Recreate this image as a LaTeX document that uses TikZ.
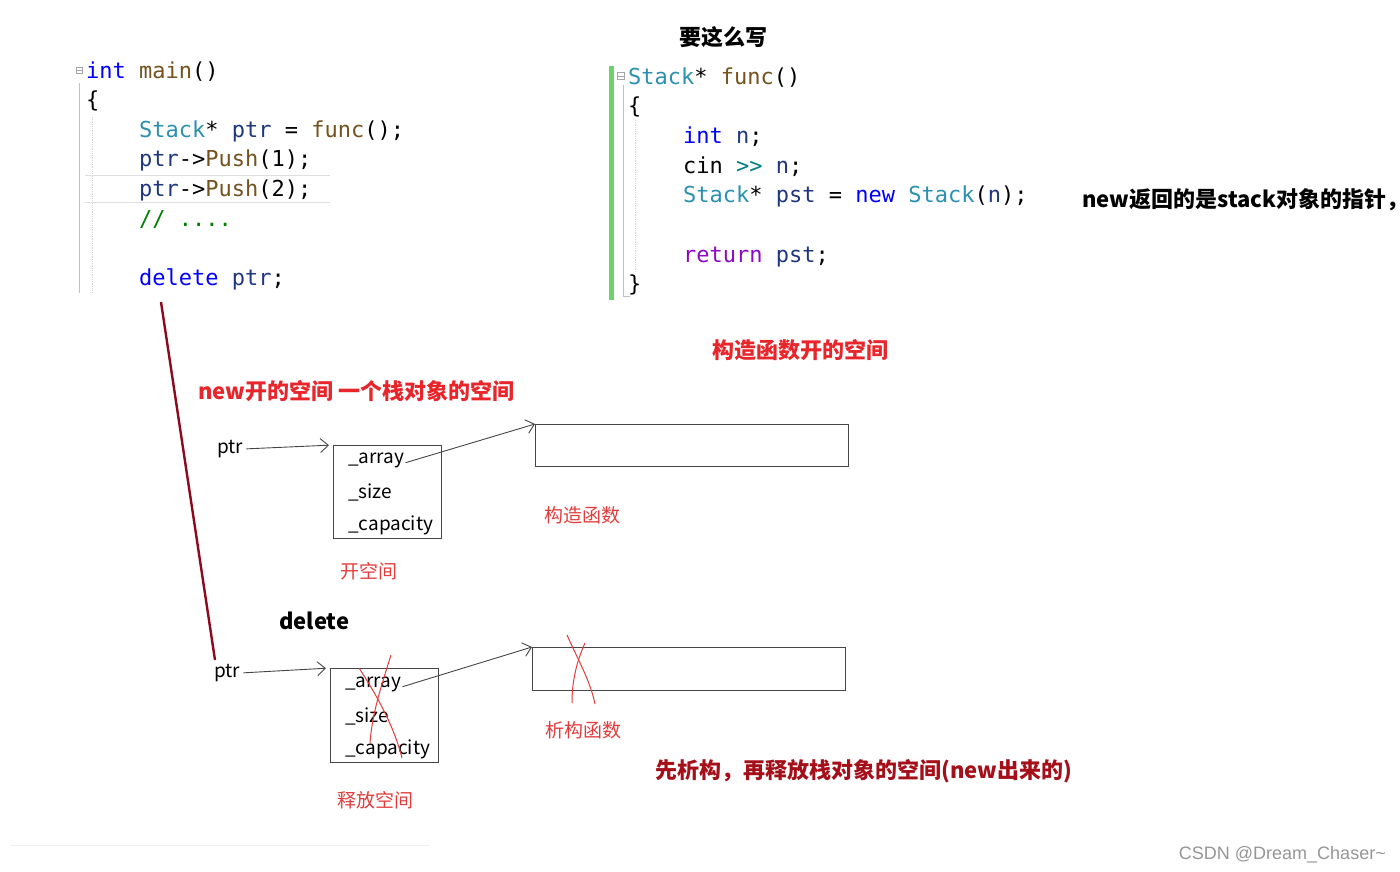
\documentclass[tikz,border=0pt]{standalone}
\usepackage{fontspec}
\setmainfont{Noto Sans CJK SC}
\setmonofont{DejaVu Sans Mono}
\newfontfamily\wmfont{Liberation Sans}
\usetikzlibrary{arrows.meta}
\definecolor{ckwC}{RGB}{0,0,255}
\definecolor{ctyC}{RGB}{43,145,175}
\definecolor{cfnC}{RGB}{116,83,31}
\definecolor{cidC}{RGB}{31,55,127}
\definecolor{ccmC}{RGB}{0,128,0}
\definecolor{crtC}{RGB}{143,8,196}
\definecolor{copC}{RGB}{0,128,128}
\definecolor{redA}{RGB}{232,37,42}
\definecolor{redB}{RGB}{226,60,60}
\definecolor{redD}{RGB}{165,15,25}
\definecolor{redLine}{RGB}{140,10,30}
\definecolor{greenBar}{RGB}{108,210,108}
\definecolor{lineC}{RGB}{70,70,70}
\newcommand\ckw[1]{\textcolor{ckwC}{#1}}
\newcommand\cty[1]{\textcolor{ctyC}{#1}}
\newcommand\cfn[1]{\textcolor{cfnC}{#1}}
\newcommand\cid[1]{\textcolor{cidC}{#1}}
\newcommand\ccm[1]{\textcolor{ccmC}{#1}}
\newcommand\crt[1]{\textcolor{crtC}{#1}}
\newcommand\cop[1]{\textcolor{copC}{#1}}
\tikzset{
  code/.style={anchor=base west, inner sep=0pt, font=\ttfamily\fontsize{22}{26}\selectfont},
  head/.style={anchor=west, inner sep=0pt, font=\bfseries\fontsize{22}{26}\selectfont},
  lbl/.style={anchor=west, inner sep=0pt, font=\fontsize{19}{22}\selectfont},
  fld/.style={anchor=west, inner sep=0pt, font=\fontsize{19}{22}\selectfont},
  membox/.style={draw=lineC, line width=1.1pt, anchor=north west, inner sep=0pt},
  ptrarrow/.style={draw=lineC, line width=0.9pt, -{Straight Barb[length=8pt,width=14pt]}},
  cross/.style={draw=redB, line width=1pt},
}
\begin{document}
\begin{tikzpicture}[x=1pt,y=-1pt]
\useasboundingbox[fill=white] (0,0) rectangle (1400,872);

% ---- left code ----
\draw[gray!50, line width=1pt] (79,83) -- (79,293);
\draw[gray!35, line width=0.8pt, densely dotted] (92,117) -- (92,292);
\draw[gray!25, line width=1pt] (85,175) -- (330,175);
\draw[gray!25, line width=1pt] (85,202) -- (330,202);
\node[draw=gray!70, line width=0.5pt, minimum size=6pt, inner sep=0pt] (foldA) at (79,70) {};
\draw[gray!70, line width=0.5pt] (foldA.west) -- (foldA.east);
\node[code] (l1) at (86,78.5) {\ckw{int} \cfn{main}()};
\node[code] (l2) at (86,108) {\{};
\node[code] (l3) at (139,137.5) {\cty{Stack}* \cid{ptr} = \cfn{func}();};
\node[code] (l4) at (139,167) {\cid{ptr}->\cfn{Push}(1);};
\node[code] (l5) at (139,196.5) {\cid{ptr}->\cfn{Push}(2);};
\node[code] (l6) at (139,226) {\ccm{// ....}};
\node[code] (l7) at (139,285.5) {\ckw{delete} \cid{ptr};};

% ---- right code ----
\node[head, anchor=center] (title) at (723,37) {要这么写};
\fill[greenBar] (609,66) rectangle (614,300);
\draw[gray!50, line width=1pt] (623,85) -- (623,296) -- (630,296);
\draw[gray!35, line width=0.8pt, densely dotted] (635,120) -- (635,272);
\node[draw=gray!70, line width=0.5pt, minimum size=7pt, inner sep=0pt] (foldB) at (621,76) {};
\draw[gray!70, line width=0.5pt] (foldB.west) -- (foldB.east);
\node[code] (r1) at (628,84.5) {\cty{Stack}* \cfn{func}()};
\node[code] (r2) at (628,114) {\{};
\node[code] (r3) at (683,143.5) {\ckw{int} \cid{n};};
\node[code] (r4) at (683,173) {cin \cop{>>} \cid{n};};
\node[code] (r5) at (683,202.5) {\cty{Stack}* \cid{pst} = \ckw{new} \cty{Stack}(\cid{n});};
\node[code] (r6) at (683,262) {\crt{return} \cid{pst};};
\node[code] (r7) at (628,291.5) {\}};
\node[head] (note) at (1082,200) {new返回的是stack对象的指针，};

% ---- red divider ----
\coordinate (dTop) at (161,302);
\coordinate (dBot) at (215,660);
\draw[redLine, line width=2.4pt] (dTop) -- (dBot);

% ---- headings ----
\node[head, text=redA] (hNew) at (198,391) {new开的空间 一个栈对象的空间};
\node[head, text=redA, anchor=center] (hCtor) at (800,350) {构造函数开的空间};

% ---- upper memory diagram ----
\node[lbl] (ptrA) at (217,449) {ptr};
\node[membox, minimum width=108pt, minimum height=93pt] (box1) at (333,445) {};
\node[fld] (arrA) at (348,460) {\_array};
\node[fld] (sizA) at (348,492) {\_size};
\node[fld] (capA) at (348,525) {\_capacity};
\node[membox, minimum width=313pt, minimum height=42pt] (rect2) at (535,424) {};
\draw[ptrarrow, shorten <=3pt, shorten >=4pt] (ptrA.east) -- (box1.north west);
\draw[ptrarrow, shorten <=1pt] ([yshift=-3pt]arrA.east) -- (rect2.north west);
\node[lbl, text=redB] (ctor) at (544,515) {构造函数};
\node[lbl, text=redB] (kai) at (340,571) {开空间};

% ---- lower memory diagram ----
\node[head] (del) at (279,621) {delete};
\node[lbl] (ptrB) at (214,673) {ptr};
\node[membox, minimum width=108pt, minimum height=94pt] (box3) at (330,668) {};
\node[fld] (arrB) at (345,684) {\_array};
\node[fld] (sizB) at (345,716) {\_size};
\node[fld] (capB) at (345,749) {\_capacity};
\node[membox, minimum width=313pt, minimum height=43pt] (rect4) at (532,647) {};
\draw[ptrarrow, shorten <=3pt, shorten >=4pt] (ptrB.east) -- (box3.north west);
\draw[ptrarrow, shorten <=1pt] ([yshift=-3pt]arrB.east) -- (rect4.north west);
\draw[cross] (359,668) .. controls (380,700) and (395,730) .. (402,758);
\draw[cross] (391,655) .. controls (380,690) and (372,715) .. (370,743);
\draw[cross] (567,635) .. controls (578,660) and (590,680) .. (595,704);
\draw[cross] (585,643) .. controls (575,665) and (572,685) .. (572,703);
\node[lbl, text=redB] (dtor) at (545,730) {析构函数};
\node[lbl, text=redB] (rel) at (337,800) {释放空间};
\node[head, text=redD] (sum) at (655,771) {先析构，再释放栈对象的空间(new出来的)};

% ---- footer ----
\draw[gray!12, line width=1pt] (10,845) -- (430,845);
\node[anchor=east, inner sep=0pt, text={rgb,255:red,150;green,150;blue,150}, font=\wmfont\fontsize{18}{20}\selectfont] (wm) at (1386,855) {CSDN @Dream\_Chaser\textasciitilde};
\end{tikzpicture}
\end{document}
